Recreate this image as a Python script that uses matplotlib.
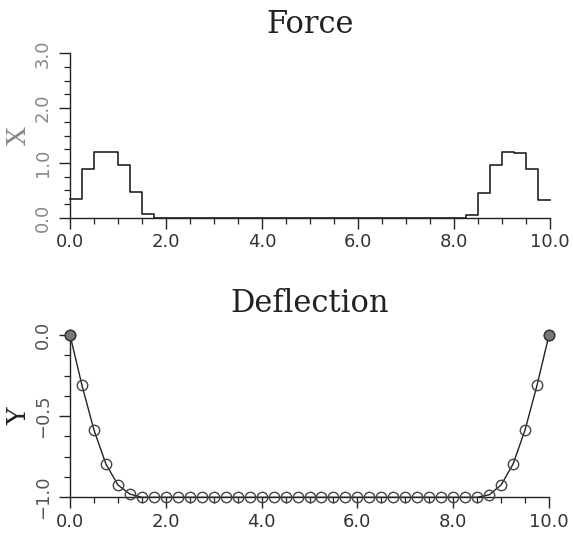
import numpy as np
import matplotlib
matplotlib.use("Agg")
import matplotlib.pyplot as plt
from matplotlib.ticker import MultipleLocator, FuncFormatter

# force: one value per bin of width 0.25 on [0, 10]
force_edges = np.arange(41) * 0.25
force = [0.34, 0.89, 1.19, 1.20, 0.96, 0.46, 0.06, 0.0,
         0.0, 0.0, 0.0, 0.0, 0.0, 0.0, 0.0, 0.0,
         0.0, 0.0, 0.0, 0.0, 0.0, 0.0, 0.0, 0.0,
         0.0, 0.0, 0.0, 0.0, 0.0, 0.0, 0.0, 0.0,
         0.0, 0.05, 0.45, 0.96, 1.19, 1.18, 0.88, 0.32]

# deflection sampled at the same grid
defl_x = np.arange(41) * 0.25
deflection = [0.0, -0.31, -0.585, -0.795, -0.924, -0.98, -1.0, -1.0,
              -1.0, -1.0, -1.0, -1.0, -1.0, -1.0, -1.0, -1.0,
              -1.0, -1.0, -1.0, -1.0, -1.0, -1.0, -1.0, -1.0,
              -1.0, -1.0, -1.0, -1.0, -1.0, -1.0, -1.0, -1.0,
              -1.0, -1.0, -1.0, -0.985, -0.924, -0.795, -0.585, -0.31, 0.0]

W, H = 573, 533
fig = plt.figure(figsize=(W / 100, H / 100), dpi=100)
fig.patch.set_facecolor("white")

def fmt(v, pos):
    s = "%.1f" % v
    if s == "-0.0":
        s = "0.0"
    return s.replace("-", "\u2212")

def px_axes(x0, x1, ytop, ybot):
    return fig.add_axes([x0 / W, 1 - ybot / H, (x1 - x0) / W, (ybot - ytop) / H])

def style(ax, ymaj, ymin, ylab_color):
    for s in ("top", "right"):
        ax.spines[s].set_visible(False)
    for s in ("left", "bottom"):
        ax.spines[s].set_linewidth(1.0)
        ax.spines[s].set_color("#222222")
    ax.set_xlim(0, 10)
    ax.xaxis.set_major_locator(MultipleLocator(2.0))
    ax.xaxis.set_minor_locator(MultipleLocator(0.5))
    ax.yaxis.set_major_locator(MultipleLocator(ymaj))
    ax.yaxis.set_minor_locator(MultipleLocator(ymin))
    ax.xaxis.set_major_formatter(FuncFormatter(fmt))
    ax.yaxis.set_major_formatter(FuncFormatter(fmt))
    ax.tick_params(which="major", length=8, width=1.0, color="#222222", direction="out")
    ax.tick_params(which="minor", length=4, width=0.9, color="#222222", direction="out")
    ax.tick_params(axis="x", which="major", pad=3, labelsize=13, labelcolor="#333333")
    ax.tick_params(axis="y", which="major", pad=5, labelsize=13, labelcolor=ylab_color)
    for lab in ax.get_xticklabels():
        lab.set_fontfamily("DejaVu Sans")
    for lab in ax.get_yticklabels():
        lab.set_rotation(90)
        lab.set_va("center")
        lab.set_fontfamily("DejaVu Sans")

# Force
ax1 = px_axes(70, 550, 53.3, 217.7)
ax1.step(force_edges, force + [force[-1]], where="post", color="#222222", lw=1.2, clip_on=False)
ax1.set_ylim(0, 3.0)
style(ax1, 1.0, 0.25, "#888888")
ax1.set_ylabel("X", family="DejaVu Serif", fontsize=19, color="#888888", rotation=90)
ax1.yaxis.set_label_coords((31 - 70) / 480, 0.5)
fig.text(310 / W, 1 - 33 / H, "Force", ha="center", va="baseline",
         family="DejaVu Serif", fontsize=22, color="#222222")

# Deflection
ax2 = px_axes(70, 549, 335, 497.3)
ax2.plot(defl_x, deflection, color="#222222", lw=1.0, clip_on=False, zorder=2)
ax2.plot(defl_x, deflection, ls="none", marker="o", ms=7.5, mfc="none",
         mec="#444444", mew=1.0, clip_on=False, zorder=3)
ax2.plot([defl_x[0], defl_x[-1]], [deflection[0], deflection[-1]], ls="none",
         marker="o", ms=7.5, mfc="#777777", mec="#333333", mew=1.0, clip_on=False, zorder=4)
ax2.set_ylim(-1.0, 0.0)
style(ax2, 0.5, 0.125, "#555555")
ax2.set_ylabel("Y", family="DejaVu Serif", fontsize=19, color="#222222", rotation=90)
ax2.yaxis.set_label_coords((31 - 70) / 479, 0.5)
fig.text(310 / W, 1 - 312 / H, "Deflection", ha="center", va="baseline",
         family="DejaVu Serif", fontsize=22, color="#222222")

fig.savefig("out.png", dpi=100)
